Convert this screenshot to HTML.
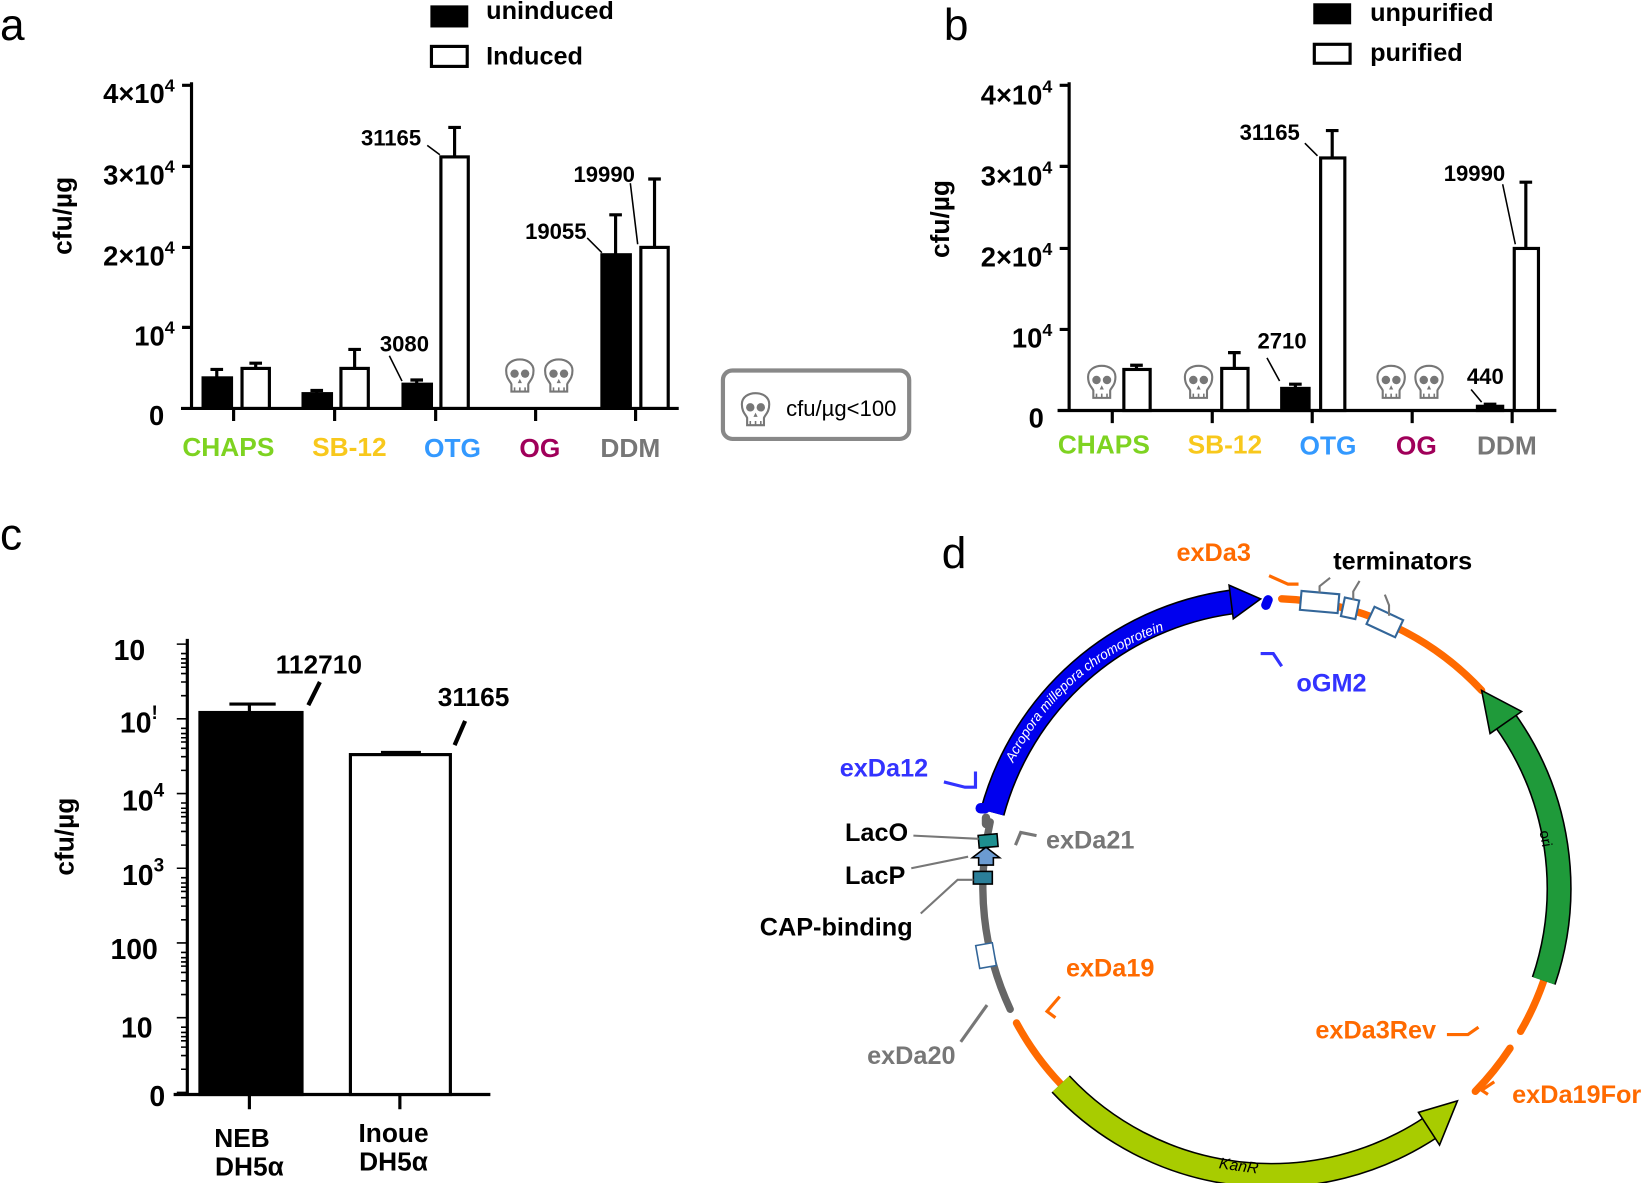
<!DOCTYPE html>
<html><head><meta charset="utf-8"><style>
html,body{margin:0;padding:0;background:#fff}
svg{display:block}
text{font-family:"Liberation Sans",sans-serif;font-weight:bold}
</style></head><body>
<svg width="1650" height="1183" viewBox="0 0 1568 1124" xmlns="http://www.w3.org/2000/svg">
<defs>
<g id="skull">
<path d="M-13,-4 C-13,-18 13,-18 13,-4 C13,4 9,6 8,9 L8,16 L-8,16 L-8,9 C-9,6 -13,4 -13,-4Z" fill="#fff" stroke="#777" stroke-width="2"/>
<ellipse cx="-5" cy="-1" rx="4" ry="4" fill="#777"/>
<ellipse cx="5" cy="-1" rx="4" ry="4" fill="#777"/>
<path d="M0,4 L-2,8 L2,8Z" fill="#777"/>
<path d="M-5,12 v4 M0,12 v4 M5,12 v4" stroke="#777" stroke-width="1.5"/>
</g>
</defs>

<text x="0" y="38" font-size="42" style="font-weight:normal">a</text>
<text x="897" y="38" font-size="42" style="font-weight:normal">b</text>
<text x="0" y="522" font-size="42" style="font-weight:normal">c</text>
<text x="895" y="540" font-size="42" style="font-weight:normal">d</text>

<!-- ===== Panel a ===== -->
<rect x="409" y="5" width="36" height="21" fill="#000"/>
<text x="462" y="18" font-size="24">uninduced</text>
<rect x="410" y="44" width="34" height="19" fill="#fff" stroke="#000" stroke-width="3"/>
<text x="462" y="61" font-size="24">Induced</text>

<text transform="translate(68,205) rotate(-90)" font-size="25" text-anchor="middle">cfu/µg</text>
<g stroke="#000" stroke-width="3" fill="none">
<path d="M182,78 V389 M172,388 H645"/>
<path d="M173,81 H182 M173,158 H182 M173,235 H182 M173,311 H182"/>
<path d="M222,388 v12 M318,388 v12 M414,388 v12 M509,388 v12 M604,388 v12"/>
</g>
<g font-size="26" text-anchor="end">
<text x="166" y="98">4×10<tspan font-size="17" dy="-11">4</tspan></text>
<text x="166" y="175">3×10<tspan font-size="17" dy="-11">4</tspan></text>
<text x="166" y="252">2×10<tspan font-size="17" dy="-11">4</tspan></text>
<text x="166" y="328">10<tspan font-size="17" dy="-11">4</tspan></text>
<text x="156" y="404">0</text>
</g>
<g stroke="#000" stroke-width="3">
<rect x="193" y="359" width="27" height="29" fill="#000"/>
<path d="M206,359 V351 M200,351 H212"/>
<rect x="230" y="350" width="26" height="38" fill="#fff"/>
<path d="M243,350 V345 M237,345 H249"/>
<rect x="288" y="374" width="27" height="14" fill="#000"/>
<path d="M301,374 V371 M295,371 H307"/>
<rect x="324" y="350" width="26" height="38" fill="#fff"/>
<path d="M337,350 V332 M331,332 H343"/>
<rect x="383" y="365" width="27" height="23" fill="#000"/>
<path d="M396,365 V361 M390,361 H402"/>
<rect x="419" y="149" width="26" height="239" fill="#fff"/>
<path d="M432,149 V121 M426,121 H438"/>
<rect x="572" y="242" width="27" height="146" fill="#000"/>
<path d="M585,242 V204 M579,204 H591"/>
<rect x="609" y="235" width="26" height="153" fill="#fff"/>
<path d="M622,235 V170 M616,170 H628"/>
</g>
<g stroke="#000" stroke-width="1.5">
<path d="M406,138 L418,147 M370,338 L382,362 M558,226 L572,240 M599,174 L606,232"/>
</g>
<g font-size="21">
<text x="343" y="138">31165</text>
<text x="361" y="334">3080</text>
<text x="499" y="227">19055</text>
<text x="545" y="173">19990</text>
</g>
<use href="#skull" x="494" y="356"/>
<use href="#skull" x="531" y="356"/>
<g font-size="25" text-anchor="middle">
<text x="217" y="433" fill="#7ed321">CHAPS</text>
<text x="332" y="433" fill="#f8c81c">SB-12</text>
<text x="430" y="434" fill="#3399ff">OTG</text>
<text x="513" y="434" fill="#a0005a">OG</text>
<text x="599" y="434" fill="#777">DDM</text>
</g>
<rect x="687" y="352" width="177" height="65" rx="9" fill="#fff" stroke="#888" stroke-width="4"/>
<use href="#skull" x="718" y="388"/>
<text x="747" y="395" font-size="21" style="font-weight:normal">cfu/µg&lt;100</text>

<!-- ===== Panel b ===== -->
<rect x="1248" y="3" width="36" height="20" fill="#000"/>
<text x="1302" y="20" font-size="24">unpurified</text>
<rect x="1249" y="42" width="34" height="18" fill="#fff" stroke="#000" stroke-width="3"/>
<text x="1302" y="58" font-size="24">purified</text>
<text transform="translate(902,208) rotate(-90)" font-size="25" text-anchor="middle">cfu/µg</text>
<g stroke="#000" stroke-width="3" fill="none">
<path d="M1016,78 V391 M1005,390 H1479"/>
<path d="M1007,81 H1016 M1007,158 H1016 M1007,236 H1016 M1007,313 H1016"/>
<path d="M1057,390 v12 M1152,390 v12 M1247,390 v12 M1342,390 v12 M1437,390 v12"/>
</g>
<g font-size="26" text-anchor="end">
<text x="1000" y="99">4×10<tspan font-size="17" dy="-11">4</tspan></text>
<text x="1000" y="176">3×10<tspan font-size="17" dy="-11">4</tspan></text>
<text x="1000" y="253">2×10<tspan font-size="17" dy="-11">4</tspan></text>
<text x="1000" y="330">10<tspan font-size="17" dy="-11">4</tspan></text>
<text x="992" y="406">0</text>
</g>
<g stroke="#000" stroke-width="3">
<rect x="1068" y="351" width="25" height="39" fill="#fff"/>
<path d="M1080,351 V347 M1074,347 H1086"/>
<rect x="1161" y="350" width="25" height="40" fill="#fff"/>
<path d="M1173,350 V335 M1167,335 H1179"/>
<rect x="1218" y="369" width="26" height="21" fill="#000"/>
<path d="M1231,369 V365 M1225,365 H1237"/>
<rect x="1255" y="150" width="23" height="240" fill="#fff"/>
<path d="M1266,150 V124 M1260,124 H1272"/>
<rect x="1404" y="386" width="24" height="4" fill="#000"/>
<path d="M1416,386 V384 M1410,384 H1422"/>
<rect x="1439" y="236" width="23" height="154" fill="#fff"/>
<path d="M1450,236 V173 M1444,173 H1456"/>
</g>
<g stroke="#000" stroke-width="1.5">
<path d="M1240,136 L1252,148 M1204,340 L1216,362 M1428,175 L1440,232 M1398,370 L1408,382"/>
</g>
<g font-size="21">
<text x="1178" y="133">31165</text>
<text x="1195" y="331">2710</text>
<text x="1372" y="172">19990</text>
<text x="1394" y="365">440</text>
</g>
<use href="#skull" x="1047" y="362"/>
<use href="#skull" x="1139" y="362"/>
<use href="#skull" x="1322" y="362"/>
<use href="#skull" x="1358" y="362"/>
<g font-size="25" text-anchor="middle">
<text x="1049" y="431" fill="#7ed321">CHAPS</text>
<text x="1164" y="431" fill="#f8c81c">SB-12</text>
<text x="1262" y="432" fill="#3399ff">OTG</text>
<text x="1346" y="432" fill="#a0005a">OG</text>
<text x="1432" y="432" fill="#777">DDM</text>
</g>

<!-- ===== Panel c ===== -->
<text transform="translate(70,795) rotate(-90)" font-size="25" text-anchor="middle">cfu/µg</text>
<g stroke="#000" stroke-width="3" fill="none">
<path d="M178,607 V1041 M165,1040 H466"/>
<path d="M237,1040 v14 M380,1040 v14"/>
</g>
<g stroke="#000" stroke-width="1.5">
<path d="M168,612 H178 M168,683 H178 M168,754 H178 M168,825 H178 M168,896 H178 M168,967 H178 M168,1038 H178"/>
<path d="M172,621 H178 M172,626 H178 M172,630 H178 M172,634 H178 M172,640 H178 M172,648 H178 M172,661 H178
M172,692 H178 M172,697 H178 M172,701 H178 M172,705 H178 M172,711 H178 M172,719 H178 M172,732 H178
M172,763 H178 M172,768 H178 M172,772 H178 M172,776 H178 M172,782 H178 M172,790 H178 M172,803 H178
M172,834 H178 M172,839 H178 M172,843 H178 M172,847 H178 M172,853 H178 M172,861 H178 M172,874 H178
M172,905 H178 M172,910 H178 M172,914 H178 M172,918 H178 M172,924 H178 M172,932 H178 M172,945 H178
M172,976 H178 M172,981 H178 M172,985 H178 M172,989 H178 M172,995 H178 M172,1003 H178 M172,1016 H178"/>
</g>
<g font-size="27" text-anchor="end">
<text x="138" y="627">10</text>
<text x="150" y="696">10<tspan font-size="18" dy="-13">!</tspan></text>
<text x="156" y="770">10<tspan font-size="18" dy="-13">4</tspan></text>
<text x="156" y="841">10<tspan font-size="18" dy="-13">3</tspan></text>
<text x="150" y="911">100</text>
<text x="145" y="986">10</text>
<text x="157" y="1051">0</text>
</g>
<g stroke="#000" stroke-width="3">
<rect x="190" y="677" width="97" height="363" fill="#000"/>
<path d="M237,677 V669 M218,669 H262"/>
<rect x="333" y="717" width="95" height="323" fill="#fff"/>
<path d="M380,717 V715 M362,715 H400"/>
<path d="M293,670 L304,648 M432,708 L442,685" stroke-width="4"/>
</g>
<g font-size="25">
<text x="262" y="640">112710</text>
<text x="416" y="671">31165</text>
<text x="230" y="1090" text-anchor="middle">NEB</text>
<text x="237" y="1117" text-anchor="middle">DH5α</text>
<text x="374" y="1085" text-anchor="middle">Inoue</text>
<text x="374" y="1112" text-anchor="middle">DH5α</text>
</g>

<!-- ===== Panel d ===== -->
<g fill="none" stroke-linecap="round">
<path d="M1218,569 A274,274 0 0 1 1408,656" stroke="#ff6a00" stroke-width="7"/>
<path d="M1467,932 A274,274 0 0 1 1445,980" stroke="#ff6a00" stroke-width="7"/>
<path d="M1435,996 A274,274 0 0 1 1402,1037" stroke="#ff6a00" stroke-width="7"/>
<path d="M1008,1030 A274,274 0 0 1 966,972" stroke="#ff6a00" stroke-width="7"/>
<path d="M960,959 A274,274 0 0 1 941,781" stroke="#666" stroke-width="7"/>
</g>
<path d="M943,772 A274,274 0 0 1 1170,572" fill="none" stroke="#000" stroke-width="24"/>
<path d="M943,772 A274,274 0 0 1 1170,572" fill="none" stroke="#0000ee" stroke-width="21"/>
<polygon points="1172,588 1168,556 1198,569" fill="#0000ee" stroke="#000" stroke-width="1.5"/>
<path d="M936,768 h-4" stroke="#0000ee" stroke-width="10" stroke-linecap="round"/>
<path d="M1205,570 l-2,5" stroke="#0000ee" stroke-width="9" stroke-linecap="round"/>
<path id="bluetxt" d="M963,725 A248,248 0 0 1 1140,590" fill="none"/>
<text font-size="13" fill="#fff" style="font-weight:normal;font-style:italic"><textPath href="#bluetxt">Acropora millepora chromoprotein</textPath></text>
<path d="M1467,932 A274,274 0 0 0 1430,684" fill="none" stroke="#000" stroke-width="24"/>
<path d="M1467,932 A274,274 0 0 0 1430,684" fill="none" stroke="#1f9a3a" stroke-width="21"/>
<polygon points="1416,697 1446,676 1408,656" fill="#1f9a3a" stroke="#000" stroke-width="1.5"/>
<text transform="translate(1463,790) rotate(80)" font-size="14" style="font-weight:normal">ori</text>
<path d="M1008,1030 A274,274 0 0 0 1360,1071" fill="none" stroke="#000" stroke-width="24"/>
<path d="M1008,1030 A274,274 0 0 0 1360,1071" fill="none" stroke="#a8cc00" stroke-width="21"/>
<polygon points="1348,1057 1368,1088 1385,1046" fill="#a8cc00" stroke="#000" stroke-width="1.5"/>
<text transform="translate(1158,1110) rotate(8)" font-size="15" style="font-weight:normal;font-style:italic">KanR</text>
<g fill="#fff" stroke="#336699" stroke-width="2">
<rect x="1236" y="563" width="36" height="18" transform="rotate(5 1254 572)"/>
<rect x="1276" y="569" width="14" height="18" transform="rotate(12 1283 578)"/>
<rect x="1301" y="582" width="30" height="18" transform="rotate(25 1316 591)"/>
</g>
<path d="M1254,563 v-6 l10,-8 M1286,570 v-8 l6,-10 M1320,585 v-10 l-4,-10" stroke="#777" stroke-width="2" fill="none"/>
<path d="M937,777 v6" stroke="#666" stroke-width="8" stroke-linecap="round"/>
<rect x="930" y="793" width="18" height="12" fill="#1e8f8f" stroke="#000" stroke-width="1.5" transform="rotate(-5 939 799)"/>
<polygon points="930,822 930,815 924,815 937,805 950,815 944,815 944,822" fill="#6b9bd1" stroke="#000" stroke-width="1.5"/>
<rect x="925" y="828" width="18" height="12" fill="#2b7f99" stroke="#000" stroke-width="1.5"/>
<rect x="929" y="897" width="16" height="22" fill="#fff" stroke="#336699" stroke-width="1.5" transform="rotate(-10 937 908)"/>
<g stroke="#777" stroke-width="2" fill="none">
<path d="M868,794 L930,797 M866,825 L920,814 M875,868 L910,836 L925,836"/>
</g>
<g fill="none" stroke-width="3">
<path d="M1206,547 l18,8 h10" stroke="#ff6a00"/>
<path d="M1218,633 l-8,-12 h-12" stroke="#3333ff"/>
<path d="M897,743 l20,5 h10 v-15" stroke="#3333ff"/>
<path d="M985,794 l-15,-3 l-5,12" stroke="#777"/>
<path d="M913,990 l25,-35" stroke="#777"/>
<path d="M1007,947 l-12,14 l8,6" stroke="#ff6a00"/>
<path d="M1375,983 h20 l10,-7" stroke="#ff6a00"/>
<path d="M1420,1028 l-12,8 l6,4" stroke="#ff6a00"/>
</g>
<g font-size="24">
<text x="1118" y="533" fill="#ff6a00">exDa3</text>
<text x="1267" y="541" fill="#000">terminators</text>
<text x="1232" y="657" fill="#3333ff">oGM2</text>
<text x="798" y="738" fill="#3333ff">exDa12</text>
<text x="803" y="799" fill="#000">LacO</text>
<text x="803" y="840" fill="#000">LacP</text>
<text x="722" y="889" fill="#000">CAP-binding</text>
<text x="994" y="806" fill="#777">exDa21</text>
<text x="1013" y="928" fill="#ff6a00">exDa19</text>
<text x="824" y="1011" fill="#777">exDa20</text>
<text x="1250" y="987" fill="#ff6a00">exDa3Rev</text>
<text x="1437" y="1048" fill="#ff6a00">exDa19For</text>
</g>
</svg>
</body></html>
